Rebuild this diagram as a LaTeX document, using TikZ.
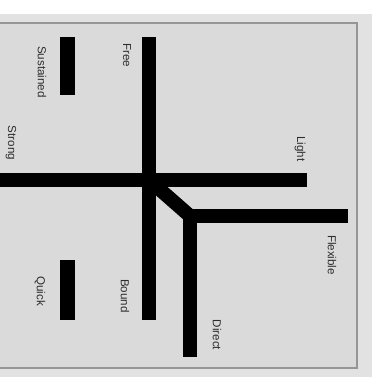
\documentclass[tikz,border=0pt]{standalone}
\usepackage{tikz}
\usetikzlibrary{calc}
\usepackage{xcolor}
\usepackage{fontspec}
\setsansfont{Liberation Sans}
\definecolor{panel}{RGB}{218,218,218}
\definecolor{frame}{RGB}{226,226,226}
\definecolor{rim}{RGB}{150,150,150}
\definecolor{labelgray}{RGB}{45,45,45}

\begin{document}
\begin{tikzpicture}[
  x=0.5pt, y=-0.5pt,
  every node/.style={font=\sffamily\fontsize{5.8}{7}\selectfont, text=labelgray},
  lbl/.style={rotate=-90, inner sep=0pt},
  axis/.style={line width=7pt, line cap=butt, line join=miter},
  bar/.style={line width=7.5pt, line cap=butt}
]
\useasboundingbox (0,0) rectangle (383,376);
\fill[white] (0,0) rectangle (383,376);

% background panel
\fill[frame] (-2,14) rectangle (372,378);
\filldraw[fill=panel, draw=rim, line width=0.8pt] (-2,23) rectangle (357,368);

% end points of the axes
\coordinate (free) at (149,37);
\coordinate (bound) at (149,320);
\coordinate (strong) at (-4,180);
\coordinate (light) at (307,180);
\coordinate (cross) at (149,180);
\coordinate (knee) at (190,216);
\coordinate (flexible) at (348,216);
\coordinate (direct) at (190,357);

\draw[axis] (free) -- (bound);
\draw[axis] (strong) -- (light);
\draw[axis] (cross) -- (knee);
\draw[axis] (flexible) -- (knee) -- (direct);

% short bars
\coordinate (sus1) at (67.5,37);
\coordinate (sus2) at (67.5,95);
\coordinate (qck1) at (67.5,260);
\coordinate (qck2) at (67.5,320);
\draw[bar] (sus1) -- (sus2);
\draw[bar] (qck1) -- (qck2);

% labels
\node[lbl] (lfree) at (127,55) {Free};
\node[lbl] (lsus) at (42,72) {Sustained};
\node[lbl] (lstrong) at (11,143) {Strong};
\node[lbl] (llight) at (300,149) {Light};
\node[lbl] (lbound) at (125,296) {Bound};
\node[lbl] (lquick) at (40,291) {Quick};
\node[lbl] (lflex) at (332,255) {Flexible};
\node[lbl] (ldirect) at (217,335) {Direct};

\end{tikzpicture}
\end{document}
